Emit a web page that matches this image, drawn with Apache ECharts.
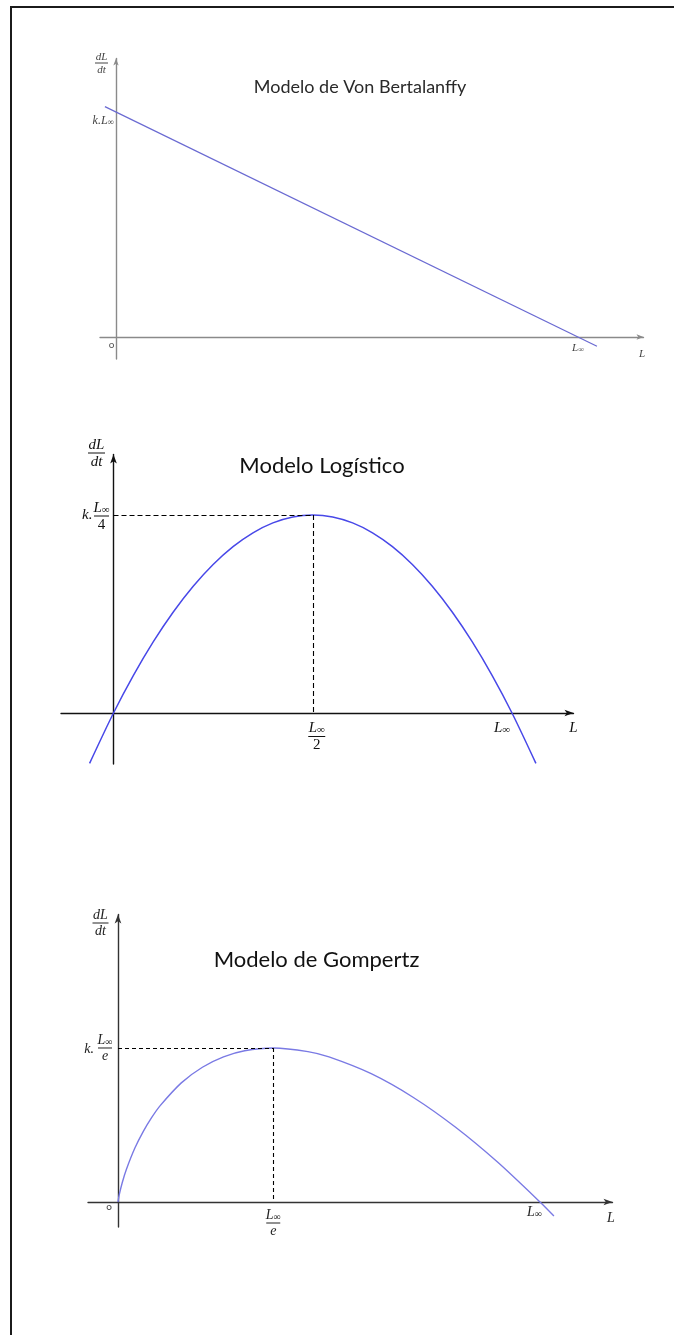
<!DOCTYPE html>
<html>
<head>
<meta charset="utf-8">
<title>Modelos de crecimiento</title>
<script src="https://cdn.jsdelivr.net/npm/echarts@6.0.0/dist/echarts.min.js"></script>
<style>
  html, body { margin: 0; padding: 0; background: #fff; width: 674px; height: 1335px; overflow: hidden; }
  .panel { position: absolute; left: 0; top: 0; width: 674px; height: 1335px; }
  #frame { position: absolute; left: 10px; top: 6px; width: 664px; height: 1329px; box-sizing: border-box;
           border-left: 2px solid #1b1b1b; border-top: 2px solid #1b1b1b; }
  #p1 { filter: blur(0.45px); }
</style>
</head>
<body>
<div id="frame"></div>
<div id="p1" class="panel"></div>
<div id="p2" class="panel"></div>
<div id="p3" class="panel"></div>
<script>
// ---- Data (L in units of L∞ = 100, k = 1) ----
const titles = ['Modelo de Von Bertalanffy', 'Modelo Logístico', 'Modelo de Gompertz'];

// Von Bertalanffy: straight line dL/dt = k (L∞ − L)
const vbL    = [-2.4, 104.1];
const vbRate = [102.4, -4.1];

// Logistic: parabola with its maximum at L∞/2
const logL    = [-6, 0, 5, 10, 15, 20, 25, 30, 35, 40, 45, 50, 55, 60, 65, 70, 75, 80, 85, 90, 95, 100, 106];
const logRate = [-6.36, 0, 4.75, 9, 12.75, 16, 18.75, 21, 22.75, 24, 24.75, 25, 24.75, 24, 22.75, 21, 18.75, 16, 12.75, 9, 4.75, 0, -6.36];
const logPeak = [50, 25];

// Gompertz: asymmetric hump with its maximum at L∞/e
const gompL    = [0, 0.3, 1, 2, 4, 6, 8, 10, 15, 20, 25, 30, 36.79, 45, 50, 60, 70, 80, 90, 100, 103.3];
const gompRate = [0, 1.74, 4.61, 7.82, 12.88, 16.88, 20.21, 23.03, 28.46, 32.19, 34.66, 36.12, 36.79, 35.93, 34.66, 30.65, 24.97, 17.85, 9.48, 0, -3.35];
const gompPeak = [36.79, 36.79];

// Reference values named on the axes
const LINF = 100;
const K_LINF = 100;

// ---- Layout ----
const MATH = 'Liberation Serif';
const SANS = 'Lato';

const layouts = {
  p1: { box: { left: 100, top: 58.5, right: 643.5, bottom: 359 }, origin: [116, 337], unit: [4.62, 2.25],
        arrow: [4, 7], axisColor: '#8a8a8a', axisWidth: 1.4 },
  p2: { box: { left: 61, top: 454.5, right: 573.5, bottom: 764 }, origin: [113.5, 713], unit: [3.985, 7.92],
        arrow: [5, 9], axisColor: '#111', axisWidth: 1.4 },
  p3: { box: { left: 88, top: 914.5, right: 612.5, bottom: 1227 }, origin: [118, 1202], unit: [4.22, 4.186],
        arrow: [5, 9], axisColor: '#333', axisWidth: 1.4 }
};

function pairs(xs, ys) { return xs.map((x, i) => [x, ys[i]]); }

function axisRange(l) {
  return {
    xMin: (l.box.left - l.origin[0]) / l.unit[0],
    xMax: (l.box.right - l.origin[0]) / l.unit[0],
    yMin: (l.origin[1] - l.box.bottom) / l.unit[1],
    yMax: (l.origin[1] - l.box.top) / l.unit[1]
  };
}

function axis(l, min, max) {
  return {
    type: 'value', min, max,
    axisLine: { show: true, onZero: true, symbol: ['none', 'arrow'], symbolSize: l.arrow,
                lineStyle: { color: l.axisColor, width: l.axisWidth } },
    axisTick: { show: false }, axisLabel: { show: false }, splitLine: { show: false }
  };
}

function baseOption(l, series) {
  const r = axisRange(l);
  return {
    animation: false,
    grid: { left: l.box.left, top: l.box.top, width: l.box.right - l.box.left, height: l.box.bottom - l.box.top,
            containLabel: false, outerBoundsMode: 'none' },
    xAxis: axis(l, r.xMin, r.xMax),
    yAxis: axis(l, r.yMin, r.yMax),
    series
  };
}

function guides(peak, dash) {
  return {
    silent: true, symbol: 'none', label: { show: false },
    lineStyle: { color: '#000', type: dash, width: 1.1 },
    data: [
      [{ coord: [0, peak[1]] }, { coord: peak }],
      [{ coord: peak }, { coord: [peak[0], 0] }]
    ]
  };
}

// ---- Text helpers ----
function mtext(x, y, str, size, color, align, vAlign) {
  return {
    type: 'text', x, y, silent: true, z: 100,
    style: {
      text: str, fill: color, font: 'italic ' + size + 'px "' + MATH + '"',
      align, verticalAlign: vAlign, textAlign: align, textVerticalAlign: vAlign,
      rich: {
        v: { fontFamily: MATH, fontStyle: 'italic', fontSize: size, fill: color, color },
        s: { fontFamily: MATH, fontSize: Math.round(size * 0.74), fill: color, color, verticalAlign: 'bottom' },
        n: { fontFamily: MATH, fontSize: size, fill: color, color }
      }
    }
  };
}

function frac(cx, cy, num, den, size, color, barW) {
  return [
    mtext(cx, cy - 0.5, num, size, color, 'center', 'bottom'),
    { type: 'line', silent: true, z: 100, shape: { x1: cx - barW / 2, y1: cy, x2: cx + barW / 2, y2: cy },
      style: { stroke: color, lineWidth: 1 } },
    mtext(cx, cy + 1.5, den, size, color, 'center', 'top')
  ];
}

function title(x, y, str, size, color) {
  return { type: 'text', x, y, silent: true, z: 100,
           style: { text: str, fill: color, font: size + 'px ' + SANS, align: 'center', verticalAlign: 'middle',
                    textAlign: 'center', textVerticalAlign: 'middle' } };
}

function sansText(x, y, str, size, color) {
  return { type: 'text', x, y, silent: true, z: 100,
           style: { text: str, fill: color, font: size + 'px ' + SANS, align: 'center', verticalAlign: 'middle',
                    textAlign: 'center', textVerticalAlign: 'middle' } };
}

const LINF_TXT = '{v|L}{s|∞}';

// ---- Panel 1: Von Bertalanffy ----
(function () {
  const l = layouts.p1;
  const chart = echarts.init(document.getElementById('p1'), null, { renderer: 'canvas' });
  chart.setOption(baseOption(l, [{
    type: 'line', data: pairs(vbL, vbRate), showSymbol: false, clip: false,
    lineStyle: { color: '#6a6ad2', width: 1.2 }
  }]));
  const r = axisRange(l);
  const px = p => chart.convertToPixel({ gridIndex: 0 }, p);
  const o = px([0, 0]), yEnd = px([0, r.yMax]), xEnd = px([r.xMax, 0]);
  const yk = px([0, K_LINF]), xl = px([LINF, 0]);
  const c = '#444';
  const g = [
    title(360, 87, titles[0], 18, '#2a2a2a'),
    ...frac(yEnd[0] - 14.5, yEnd[1] + 4.5, '{v|dL}', '{v|dt}', 11, c, 13),
    mtext(yk[0] - 2, yk[1] + 9, '{v|k.L}{s|∞}', 12, c, 'right', 'middle'),
    sansText(o[0] - 4.5, o[1] + 8, 'o', 10, '#555'),
    mtext(xl[0], xl[1] + 11, LINF_TXT, 11, c, 'center', 'middle'),
    mtext(xEnd[0] - 1.5, xEnd[1] + 17, '{v|L}', 11, c, 'center', 'middle')
  ];
  chart.setOption({ graphic: { elements: g } });
})();

// ---- Panel 2: Logistic ----
(function () {
  const l = layouts.p2;
  const chart = echarts.init(document.getElementById('p2'), null, { renderer: 'canvas' });
  chart.setOption(baseOption(l, [{
    type: 'line', data: pairs(logL, logRate), showSymbol: false, clip: false, smooth: 0.3,
    lineStyle: { color: '#4848e8', width: 1.5 },
    markLine: guides(logPeak, [5, 3])
  }]));
  const r = axisRange(l);
  const px = p => chart.convertToPixel({ gridIndex: 0 }, p);
  const o = px([0, 0]), yEnd = px([0, r.yMax]), xEnd = px([r.xMax, 0]);
  const pk = px([0, logPeak[1]]), xh = px([logPeak[0], 0]), xl = px([LINF, 0]);
  const c = '#111';
  const g = [
    title(322, 466, titles[1], 22, '#111'),
    ...frac(yEnd[0] - 17, yEnd[1] - 1.5, '{v|dL}', '{v|dt}', 15, c, 17),
    mtext(pk[0] - 21, pk[1], '{v|k.}', 15, c, 'right', 'middle'),
    ...frac(pk[0] - 12, pk[1] + 1, LINF_TXT, '{n|4}', 15, c, 15),
    ...frac(xh[0] + 4, xh[1] + 23.5, LINF_TXT, '{n|2}', 15, c, 17),
    mtext(xl[0] - 10, xl[1] + 15, LINF_TXT, 15, c, 'center', 'middle'),
    mtext(xEnd[0], xEnd[1] + 15, '{v|L}', 15, c, 'center', 'middle')
  ];
  chart.setOption({ graphic: { elements: g } });
})();

// ---- Panel 3: Gompertz ----
(function () {
  const l = layouts.p3;
  const chart = echarts.init(document.getElementById('p3'), null, { renderer: 'canvas' });
  chart.setOption(baseOption(l, [{
    type: 'line', data: pairs(gompL, gompRate), showSymbol: false, clip: false, smooth: 0.25,
    lineStyle: { color: '#7a7ae4', width: 1.4 },
    markLine: guides(gompPeak, [4, 3])
  }]));
  const r = axisRange(l);
  const px = p => chart.convertToPixel({ gridIndex: 0 }, p);
  const o = px([0, 0]), yEnd = px([0, r.yMax]), xEnd = px([r.xMax, 0]);
  const pk = px([0, gompPeak[1]]), xe = px([gompPeak[0], 0]), xl = px([LINF, 0]);
  const c = '#222';
  const g = [
    title(316.5, 960, titles[2], 22, '#111'),
    ...frac(yEnd[0] - 17.5, yEnd[1] + 8.5, '{v|dL}', '{v|dt}', 14, c, 16),
    mtext(pk[0] - 24, pk[1] + 1, '{v|k.}', 14, c, 'right', 'middle'),
    ...frac(pk[0] - 13, pk[1], LINF_TXT, '{v|e}', 14, c, 14),
    sansText(o[0] - 9, o[1] + 4.5, 'o', 10, '#444'),
    ...frac(xe[0], xe[1] + 21, LINF_TXT, '{v|e}', 14, c, 14),
    mtext(xl[0] - 5.5, xl[1] + 10, LINF_TXT, 14, c, 'center', 'middle'),
    mtext(xEnd[0] - 1.5, xEnd[1] + 16, '{v|L}', 14, c, 'center', 'middle')
  ];
  chart.setOption({ graphic: { elements: g } });
})();
</script>
</body>
</html>
